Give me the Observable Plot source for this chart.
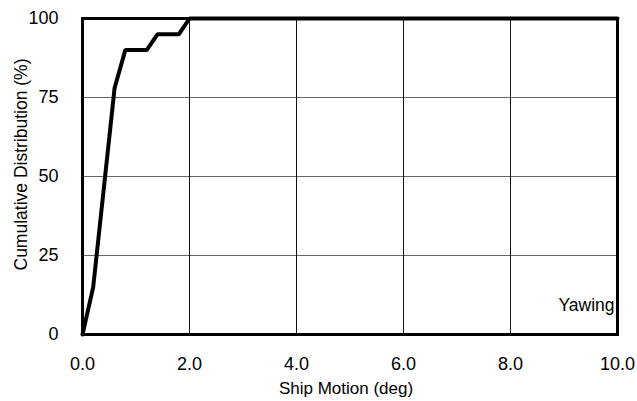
<!DOCTYPE html>
<html><head><meta charset="utf-8">
<script src="https://cdn.jsdelivr.net/npm/d3@7"></script>
<script src="https://cdn.jsdelivr.net/npm/@observablehq/plot@0.6"></script>
<style>body{margin:0;background:#fff} #chart svg{display:block}</style>
</head><body><div id="chart"></div>
<script>
const motion = [0, 0.2, 0.6, 0.8, 1.2, 1.4, 1.8, 2.0, 10.0];
const cumulative = [0, 15, 78, 90, 90, 95, 95, 100, 100];
const xTicks = [0, 2, 4, 6, 8, 10];
const xTickLabels = ["0.0", "2.0", "4.0", "6.0", "8.0", "10.0"];
const yTicks = [0, 25, 50, 75, 100];
const yTickLabels = ["0", "25", "50", "75", "100"];
const xTitle = "Ship Motion (deg)";
const yTitle = "Cumulative Distribution (%)";
const seriesLabel = "Yawing";

const data = motion.map((m, i) => ({m, c: cumulative[i]}));
const narrow = "'Liberation Sans Narrow','Arial Narrow','Liberation Sans',sans-serif";
const regular = "'Liberation Sans',Arial,sans-serif";

const chart = Plot.plot({
  width: 637, height: 401,
  marginLeft: 82, marginRight: 20, marginTop: 18, marginBottom: 67,
  style: {fontFamily: regular, fontSize: "16px", color: "#000", background: "#fff"},
  x: {domain: [0, 10]},
  y: {domain: [0, 100]},
  marks: [
    Plot.gridY(yTicks.filter(t => t > 0 && t < 100), {stroke: "#666", strokeOpacity: 1, strokeWidth: 1}),
    Plot.gridX(xTicks.filter(t => t > 0 && t < 10), {stroke: "#111", strokeOpacity: 1, strokeWidth: 1}),
    Plot.axisX(xTicks, {tickSize: 0, tickPadding: 23, label: null, fontFamily: narrow, fontSize: 18,
      tickFormat: d => xTickLabels[xTicks.indexOf(d)]}),
    Plot.axisY(yTicks, {tickSize: 0, tickPadding: 24, label: null, fontFamily: narrow, fontSize: 18,
      tickFormat: d => yTickLabels[yTicks.indexOf(d)]}),
    Plot.line(data, {x: "m", y: "c", stroke: "#000", strokeWidth: 4, strokeLinejoin: "miter"}),
    Plot.frame({stroke: "#000", strokeWidth: 3}),
    Plot.text([seriesLabel], {frameAnchor: "bottom-right", dx: -3, dy: -24, fontSize: 17.5, fill: "#000"}),
    Plot.text([xTitle], {frameAnchor: "bottom", dx: -4, dy: 59, fontSize: 17, fill: "#000"}),
    Plot.text([yTitle], {frameAnchor: "left", textAnchor: "middle", rotate: -90, dx: -61, dy: -12, fontSize: 17.5, fill: "#000"})
  ]
});
document.getElementById("chart").appendChild(chart);
</script>
</body></html>
